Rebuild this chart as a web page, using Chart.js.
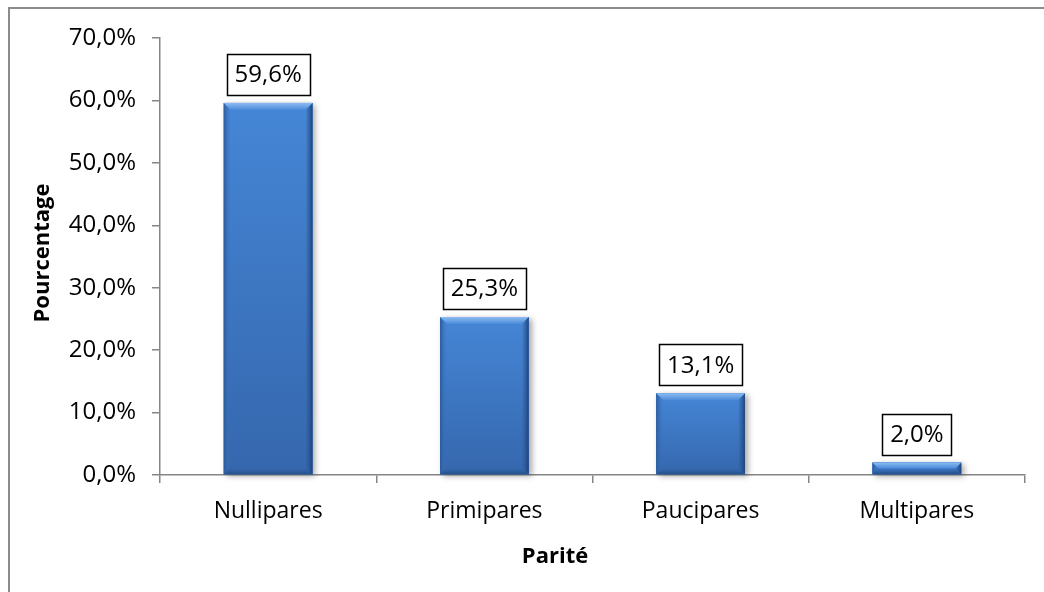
<!DOCTYPE html>
<html>
<head>
<meta charset="utf-8">
<script src="https://cdn.jsdelivr.net/npm/chart.js@4/dist/chart.umd.min.js"></script>
<style>
html,body{margin:0;padding:0;background:#fff;}
canvas{display:block;}
</style>
</head>
<body>
<canvas id="c" width="1044" height="592"></canvas>
<script>
const categories = ['Nullipares', 'Primipares', 'Paucipares', 'Multipares'];
const values = [59.6, 25.3, 13.1, 2.0];
const valueLabels = ['59,6%', '25,3%', '13,1%', '2,0%'];
const yTitle = 'Pourcentage';
const xTitle = 'Parité';
const yMin = 0, yMax = 70, yStep = 10;

const FONT = '"Open Sans", "Noto Sans", sans-serif';
const AXIS = '#868686';

const framePlugin = {
  id: 'frame',
  beforeDraw(chart) {
    const ctx = chart.ctx;
    ctx.save();
    ctx.fillStyle = '#fff';
    ctx.fillRect(0, 0, chart.width, chart.height);
    ctx.strokeStyle = '#8c8c8c';
    ctx.lineWidth = 2;
    ctx.beginPath();
    ctx.moveTo(8, 8); ctx.lineTo(chart.width, 8);
    ctx.moveTo(9, 7); ctx.lineTo(9, chart.height);
    ctx.stroke();
    ctx.restore();
  }
};

const bevelPlugin = {
  id: 'bevel',
  beforeDatasetsDraw(chart) {
    const ctx = chart.ctx;
    const meta = chart.getDatasetMeta(0);
    ctx.save();
    meta.data.forEach(bar => {
      const p = bar.getProps(['x', 'y', 'base', 'width'], true);
      const l = p.x - p.width / 2;
      ctx.shadowColor = 'rgba(0,0,0,0.35)';
      ctx.shadowBlur = 6;
      ctx.shadowOffsetX = 3;
      ctx.shadowOffsetY = 2;
      ctx.fillStyle = '#3a73c0';
      ctx.fillRect(l, p.y, p.width, p.base - p.y);
    });
    ctx.restore();
  },
  afterDatasetsDraw(chart) {
    const ctx = chart.ctx;
    const meta = chart.getDatasetMeta(0);
    ctx.save();
    meta.data.forEach(bar => {
      const p = bar.getProps(['x', 'y', 'base', 'width'], true);
      const l = p.x - p.width / 2, r = p.x + p.width / 2;
      const t = p.y, b = p.base, h = b - t;
      const bev = Math.min(7, h / 2);
      const g = ctx.createLinearGradient(0, t, 0, b);
      g.addColorStop(0, '#4586d6');
      g.addColorStop(1, '#3567ad');
      ctx.fillStyle = g;
      ctx.fillRect(l, t, p.width, h);
      const gl = ctx.createLinearGradient(l, 0, l + bev, 0);
      gl.addColorStop(0, '#2c5a98');
      gl.addColorStop(1, 'rgba(60,120,200,0)');
      ctx.fillStyle = gl;
      ctx.beginPath();
      ctx.moveTo(l, t); ctx.lineTo(l + bev, t + bev); ctx.lineTo(l + bev, b - bev); ctx.lineTo(l, b); ctx.closePath();
      ctx.fill();
      const gr = ctx.createLinearGradient(r, 0, r - bev, 0);
      gr.addColorStop(0, '#1f4478');
      gr.addColorStop(1, 'rgba(40,80,140,0)');
      ctx.fillStyle = gr;
      ctx.beginPath();
      ctx.moveTo(r, t); ctx.lineTo(r - bev, t + bev); ctx.lineTo(r - bev, b - bev); ctx.lineTo(r, b); ctx.closePath();
      ctx.fill();
      const gt = ctx.createLinearGradient(0, t, 0, t + bev);
      gt.addColorStop(0, '#8cbcf2');
      gt.addColorStop(1, '#4a8ad9');
      ctx.fillStyle = gt;
      ctx.beginPath();
      ctx.moveTo(l, t); ctx.lineTo(r, t); ctx.lineTo(r - bev, t + bev); ctx.lineTo(l + bev, t + bev); ctx.closePath();
      ctx.fill();
      const gb = ctx.createLinearGradient(0, b, 0, b - bev);
      gb.addColorStop(0, '#244d86');
      gb.addColorStop(1, 'rgba(50,100,170,0)');
      ctx.fillStyle = gb;
      ctx.beginPath();
      ctx.moveTo(l, b); ctx.lineTo(r, b); ctx.lineTo(r - bev, b - bev); ctx.lineTo(l + bev, b - bev); ctx.closePath();
      ctx.fill();
    });
    ctx.restore();
  }
};

const labelPlugin = {
  id: 'boxLabels',
  afterDatasetsDraw(chart) {
    const ctx = chart.ctx;
    const meta = chart.getDatasetMeta(0);
    ctx.save();
    ctx.font = '24px ' + FONT;
    ctx.textAlign = 'center';
    ctx.textBaseline = 'middle';
    meta.data.forEach((bar, i) => {
      const p = bar.getProps(['x', 'y'], true);
      const txt = valueLabels[i];
      const w = ctx.measureText(txt).width + 16;
      const h = 41;
      const bottom = p.y - 8;
      ctx.fillStyle = '#fff';
      ctx.fillRect(p.x - w / 2, bottom - h, w, h);
      ctx.strokeStyle = '#000';
      ctx.lineWidth = 1.5;
      ctx.strokeRect(Math.round(p.x - w / 2) + 0.5, Math.round(bottom - h) + 0.5, Math.round(w), h);
      ctx.fillStyle = '#000';
      ctx.fillText(txt, p.x, bottom - h / 2 + 1);
    });
    ctx.restore();
  }
};

const titlePlugin = {
  id: 'axisTitles',
  afterDraw(chart) {
    const ctx = chart.ctx;
    ctx.save();
    ctx.fillStyle = '#000';
    ctx.font = 'bold 22px ' + FONT;
    ctx.textAlign = 'center';
    ctx.textBaseline = 'middle';
    ctx.fillText(xTitle, 555, 557);
    ctx.translate(43, 253);
    ctx.rotate(-Math.PI / 2);
    ctx.fillText(yTitle, 0, 0);
    ctx.restore();
  }
};

new Chart(document.getElementById('c'), {
  type: 'bar',
  data: {
    labels: categories,
    datasets: [{
      data: values,
      backgroundColor: '#3a73c0',
      borderWidth: 0,
      barPercentage: 0.41,
      categoryPercentage: 1.0
    }]
  },
  options: {
    responsive: false,
    animation: false,
    events: [],
    layout: { padding: { top: 38, right: 19, left: 0, bottom: 0 } },
    plugins: { legend: { display: false }, tooltip: { enabled: false }, title: { display: false } },
    scales: {
      y: {
        min: yMin, max: yMax,
        ticks: {
          stepSize: yStep,
          color: '#000',
          font: { family: FONT, size: 24 },
          padding: 16,
          callback: v => v.toFixed(1).replace('.', ',') + '%'
        },
        grid: { drawOnChartArea: false, drawTicks: true, tickLength: 8, color: AXIS, lineWidth: 1.5 },
        border: { display: true, color: AXIS, width: 1.5 },
        afterFit: s => { s.width = 160; }
      },
      x: {
        ticks: { color: '#000', font: { family: FONT, size: 23 }, padding: 15 },
        grid: { offset: true, drawOnChartArea: false, drawTicks: true, tickLength: 8, color: AXIS, lineWidth: 1.5 },
        border: { display: true, color: AXIS, width: 1.5 },
        afterFit: s => { s.height = 117; }
      }
    }
  },
  plugins: [framePlugin, bevelPlugin, labelPlugin, titlePlugin]
});
</script>
</body>
</html>
